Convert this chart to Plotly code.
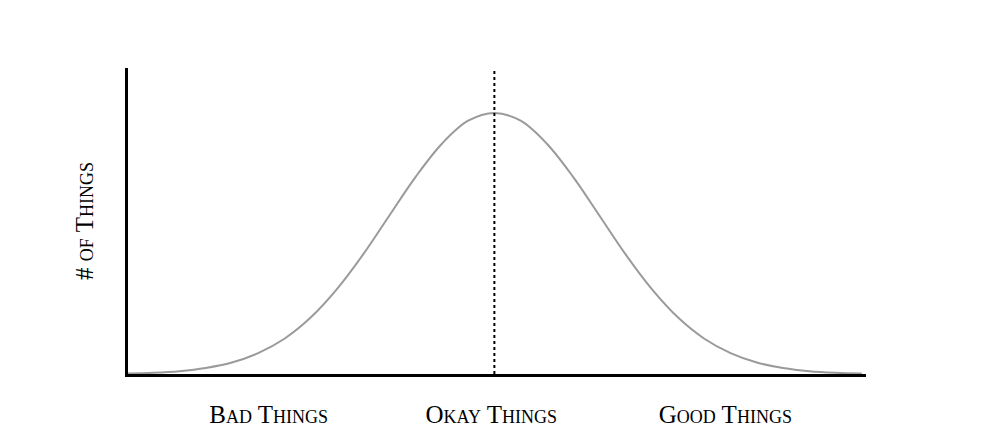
import plotly.graph_objects as go

# position along the axis, in standard deviations from the middle
position = [-3.5, -3.25, -3.0, -2.75, -2.5, -2.25, -2.0, -1.75, -1.5, -1.25,
            -1.0, -0.75, -0.5, -0.25, 0.0, 0.25, 0.5, 0.75, 1.0, 1.25,
            1.5, 1.75, 2.0, 2.25, 2.5, 2.75, 3.0, 3.25, 3.5]
# number of things, peak = 100
count = [0.2, 0.5, 1.1, 2.3, 4.4, 8.0, 13.5, 21.6, 32.5, 45.8,
         60.7, 75.5, 88.2, 97.0, 100.0, 97.0, 88.2, 75.5, 60.7, 45.8,
         32.5, 21.6, 13.5, 8.0, 4.4, 2.3, 1.1, 0.5, 0.2]

middle = 0.0
tick_pos = [-2.15, -0.03, 2.2]
tick_text = ["Bad Things", "Okay Things", "Good Things"]

serif = "Liberation Serif"
label_font = {"family": serif, "size": 25, "color": "black", "variant": "small-caps"}

fig = go.Figure()
fig.add_trace(go.Scatter(
    x=position, y=count, mode="lines",
    line={"color": "#9a9a9a", "width": 2, "shape": "spline"},
    hoverinfo="skip", showlegend=False,
))

fig.add_shape(type="line", x0=middle, x1=middle, y0=0, y1=1,
              xref="x", yref="paper",
              line={"color": "black", "width": 2, "dash": "dot"})

# the page body adds an 8px margin, so the figure is a bit smaller than the window
fig.update_layout(
    width=984, height=430,
    margin={"l": 120, "r": 126, "t": 60, "b": 64},
    paper_bgcolor="white", plot_bgcolor="white",
    font={"family": serif, "color": "black"},
    showlegend=False,
)
fig.update_xaxes(
    range=[-3.49, 3.54], showgrid=False, zeroline=False,
    showline=True, linecolor="black", linewidth=3,
    tickvals=tick_pos, ticktext=tick_text, ticks="",
    tickfont=label_font, ticklabelstandoff=16, automargin=False,
)
fig.update_yaxes(
    range=[0, 117.2], showgrid=False, zeroline=False,
    showline=True, linecolor="black", linewidth=3,
    showticklabels=False, ticks="", automargin=False,
    title={"text": "# of Things", "standoff": 25, "font": label_font},
)

fig.write_html("out.html")
